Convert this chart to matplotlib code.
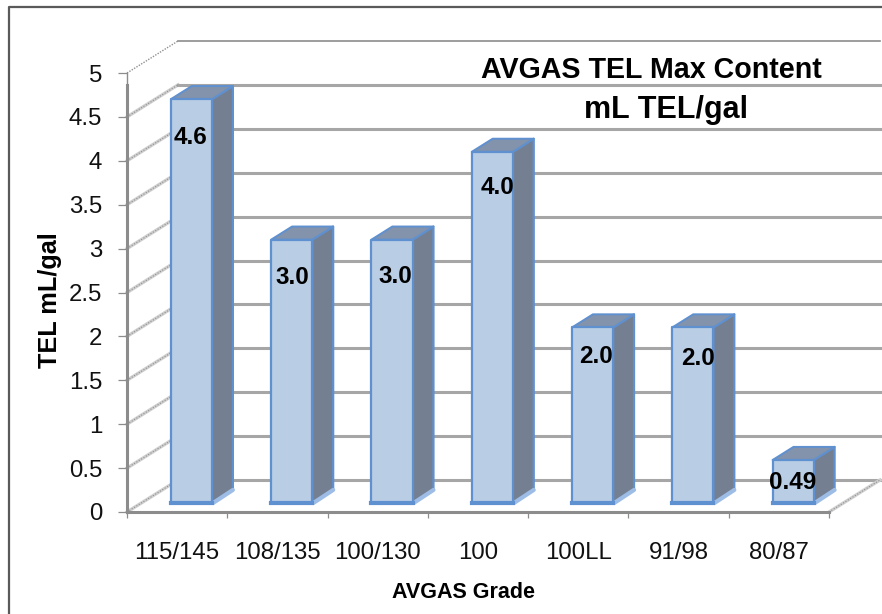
import matplotlib
matplotlib.use("Agg")
import matplotlib.pyplot as plt
from matplotlib.lines import Line2D
from matplotlib.patches import Polygon

plt.rcParams['font.family'] = ['Liberation Sans', 'DejaVu Sans']

grades = ['115/145', '108/135', '100/130', '100', '100LL', '91/98', '80/87']
tel_values = [4.6, 3.0, 3.0, 4.0, 2.0, 2.0, 0.49]
value_labels = ['4.6', '3.0', '3.0', '4.0', '2.0', '2.0', '0.49']
y_ticks = [0, 0.5, 1, 1.5, 2, 2.5, 3, 3.5, 4, 4.5, 5]
y_tick_labels = ['0', '0.5', '1', '1.5', '2', '2.5', '3', '3.5', '4', '4.5', '5']

W, H = 882, 614
fig = plt.figure(figsize=(W / 100, H / 100), dpi=100, facecolor='white')
ax = fig.add_axes([127 / W, 1 - 512 / H, (829 - 127) / W, (512 - 73) / H])
ax.set_xlim(0, 7)
ax.set_ylim(0, 5)
ax.patch.set_visible(False)

# oblique depth vector, data units per full depth of the plot box
DX = 51 / (702 / 7)
DY = 32 / (439 / 5)
BAR_W = 0.41
D0, D1 = 0.28, 0.69
GRID = '#a6a6a6'
EDGE = '#5f90d0'


def pt(x, y, d):
    return (x + d * DX, y + d * DY)


def line(a, b, **kw):
    ax.add_line(Line2D([a[0], b[0]], [a[1], b[1]], clip_on=False, **kw))


# walls
for v in y_ticks:
    a, b = pt(0, v, 0), pt(0, v, 1)
    back_end = pt(7, v, 1)
    if v == 5:
        line(a, b, color='#909090', lw=1.0, ls=(0, (1, 1)), zorder=1)
        line(b, back_end, color='#8c8c8c', lw=1.2, zorder=1)
    else:
        line(a, b, color='#cfcfcf', lw=2.4, zorder=1)
        line(a, b, color='#8f8f8f', lw=0.8, ls=(0, (1, 1.5)), zorder=1.1)
        line(b, back_end, color=GRID, lw=2.2, zorder=1)
line(pt(7, 0, 0), pt(7, 0, 1), color='#cfcfcf', lw=2.4, zorder=1)
line(pt(7, 0, 0), pt(7, 0, 1), color='#8f8f8f', lw=0.8, ls=(0, (1, 1.5)), zorder=1.1)
line(pt(0, 4.86, 0), pt(0, 5, 0), color='#8c8c8c', lw=1.0, zorder=1.2)

# bars
nudges = [(-1, -38), (1, -38), (3, -37), (5, -36), (3, -29), (5, -31), (-1, -22)]
for i, (val, txt) in enumerate(zip(tel_values, value_labels)):
    x0, x1 = i + 0.5 - BAR_W / 2, i + 0.5 + BAR_W / 2
    z = 3 + i
    bottom = Polygon([pt(x0, 0, D0), pt(x1, 0, D0), pt(x1, 0, D1), pt(x0, 0, D1)],
                     closed=True, fc='#9dbde6', ec='#9dbde6', lw=1, clip_on=False, zorder=z)
    side = Polygon([pt(x1, 0, D0), pt(x1, 0, D1), pt(x1, val, D1), pt(x1, val, D0)],
                   closed=True, fc='#748092', ec=EDGE, lw=1.6, clip_on=False, zorder=z + 0.1, joinstyle='round')
    top = Polygon([pt(x0, val, D0), pt(x1, val, D0), pt(x1, val, D1), pt(x0, val, D1)],
                  closed=True, fc='#8293ab', ec=EDGE, lw=1.4, clip_on=False, zorder=z + 0.2, joinstyle='round')
    front = Polygon([pt(x0, 0, D0), pt(x1, 0, D0), pt(x1, val, D0), pt(x0, val, D0)],
                    closed=True, fc='#b9cde5', ec=EDGE, lw=1.6, clip_on=False, zorder=z + 0.3, joinstyle='round')
    for p in (bottom, side, top, front):
        ax.add_patch(p)
    line(pt(x1 + 0.01, 0, D0), pt(x1, 0, D1), color='#9dbde6', lw=3.0, zorder=z + 0.15, solid_capstyle='round')
    line(pt(x0, 0, D0), pt(x1, 0, D0), color=EDGE, lw=3.0, zorder=z + 0.35)
    ax.annotate(txt, xy=pt(i + 0.5, val, D0), xytext=nudges[i], textcoords='offset pixels',
                ha='center', va='center', fontsize=17.5, fontweight='bold', color='black',
                zorder=30, annotation_clip=False)

# axes
for s in ('top', 'right'):
    ax.spines[s].set_visible(False)
ax.spines['left'].set_color('#8c8c8c')
ax.spines['left'].set_linewidth(2.2)
ax.spines['left'].set_bounds(0, 4.86)
ax.spines['left'].set_zorder(2)
ax.spines['bottom'].set_color('#8c8c8c')
ax.spines['bottom'].set_linewidth(2.2)
ax.spines['bottom'].set_zorder(2)

ax.set_yticks(y_ticks, y_tick_labels)
ax.tick_params(axis='y', length=6.5, width=0.9, color='#8c8c8c', pad=11.5, labelsize=17.3, labelcolor='#111111')
ax.set_xticks(range(8), [''] * 8)
ax.set_xticks([i + 0.5 for i in range(7)], grades, minor=True)
ax.tick_params(axis='x', which='major', length=4.5, width=0.9, color='#8c8c8c')
ax.tick_params(axis='x', which='minor', length=0, pad=21.5, labelsize=17.3, labelcolor='#111111')

fig.text(464 / W, 1 - 593 / H, 'AVGAS Grade', ha='center', va='center',
         fontsize=15.5, fontweight='bold')
fig.text(49.5 / W, 1 - 300 / H, 'TEL mL/gal', rotation=90, ha='center', va='center',
         fontsize=18.2, fontweight='bold')
fig.text(651.5 / W, 1 - 70 / H, 'AVGAS TEL Max Content', ha='center', va='center',
         fontsize=20.6, fontweight='bold')
fig.text(666.5 / W, 1 - 110 / H, 'mL TEL/gal', ha='center', va='center',
         fontsize=22, fontweight='bold')

# chart frame
fig.add_artist(Line2D([8.5 / W, 8.5 / W, 1], [0, 1 - 6.5 / H, 1 - 6.5 / H],
                      transform=fig.transFigure, color='#5a5a5a', lw=1.6))

fig.savefig('out.png', dpi=100)
